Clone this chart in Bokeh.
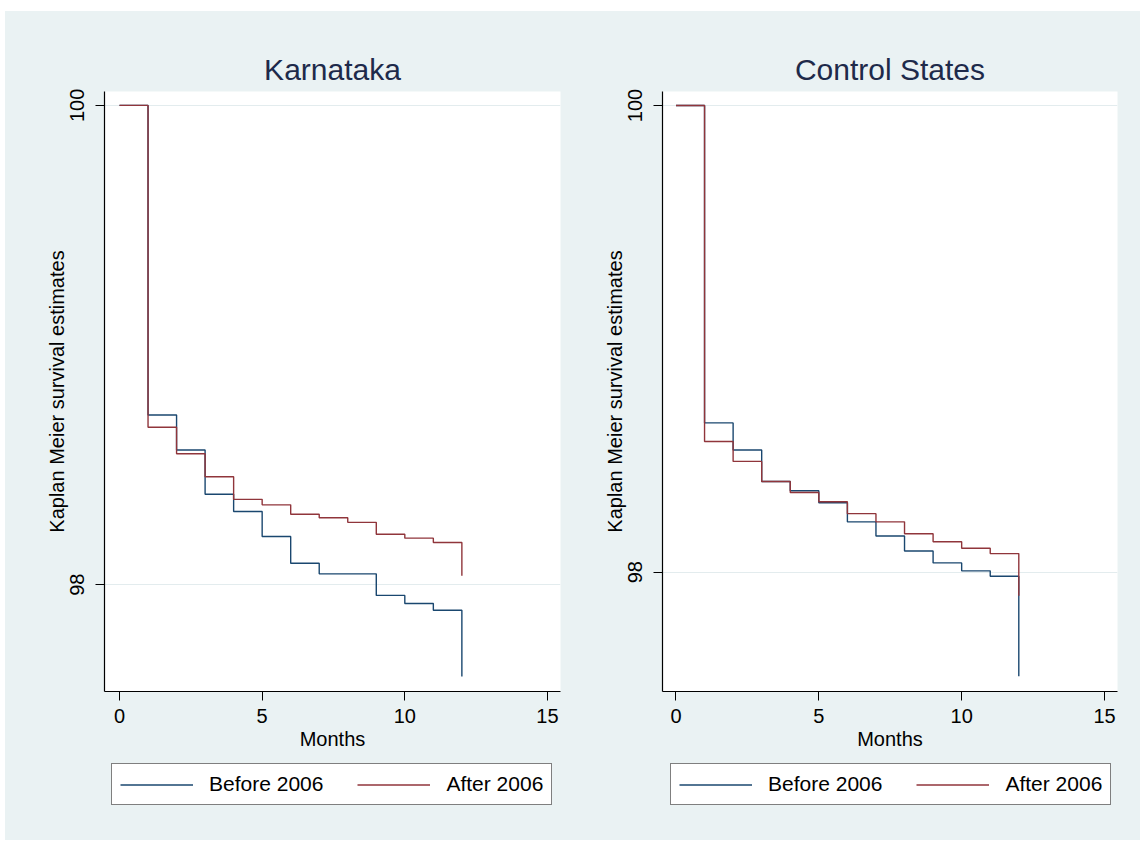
from bokeh.plotting import figure
from bokeh.layouts import row, column
from bokeh.models import FixedTicker, Range1d, Legend, LegendItem
from bokeh.embed import file_html
from bokeh.resources import INLINE

# ---- data ----
months = [0, 1, 2, 3, 4, 5, 6, 7, 8, 9, 10, 11, 12]
karnataka_before = [100.0, 98.708, 98.562, 98.377, 98.305, 98.201, 98.089,
                    98.045, 98.045, 97.955, 97.921, 97.893, 97.617]
karnataka_after = [100.0, 98.657, 98.546, 98.450, 98.356, 98.333, 98.294,
                   98.279, 98.260, 98.210, 98.194, 98.176, 98.037]
control_before = [100.0, 98.640, 98.524, 98.389, 98.349, 98.298, 98.216,
                  98.155, 98.091, 98.040, 98.006, 97.983, 97.554]
control_after = [100.0, 98.560, 98.475, 98.389, 98.342, 98.302, 98.251,
                 98.216, 98.165, 98.131, 98.103, 98.080, 97.899]
x_ticks = [0, 5, 10, 15]
y_ticks = [98, 100]
series_labels = ["Before 2006", "After 2006"]
titles = ["Karnataka", "Control States"]

BG = "#eaf2f3"
BLUE = "#1a476f"
RED = "#90353b"
FONT = "Liberation Sans"

TOP, FRAME_H, BOTTOM, LEG_H = 80, 600, 72, 77


def make_panel(title, before, after, xr, yr, bl, fw, br, leg_x):
    W = bl + fw + br
    p = figure(width=W, height=TOP + FRAME_H + BOTTOM,
               min_border_left=bl, min_border_right=br,
               min_border_top=TOP, min_border_bottom=BOTTOM,
               frame_width=fw, frame_height=FRAME_H,
               x_range=Range1d(*xr), y_range=Range1d(*yr),
               output_backend="svg", toolbar_location=None,
               background_fill_color="white", border_fill_color=BG)
    p.outline_line_color = None
    p.title.text = title
    p.title.align = "center"
    p.title.text_font = FONT
    p.title.text_font_size = "30px"
    p.title.text_font_style = "normal"
    p.title.text_color = "#1e2a4a"
    p.title.standoff = 11

    p.step(months, before, mode="after", line_color=BLUE, line_width=1.4)
    p.step(months, after, mode="after", line_color=RED, line_width=1.4)

    p.xgrid.grid_line_color = None
    p.ygrid.ticker = FixedTicker(ticks=y_ticks)
    p.ygrid.grid_line_color = "#e3ecee"
    p.ygrid.grid_line_width = 1

    for ax in (p.xaxis[0], p.yaxis[0]):
        ax.axis_line_color = "black"
        ax.axis_line_width = 1.2
        ax.major_tick_line_color = "black"
        ax.minor_tick_line_color = None
        ax.major_tick_out = 9
        ax.major_tick_in = 0
        ax.major_label_text_font = FONT
        ax.major_label_text_font_size = "20px"
        ax.major_label_text_color = "black"
        ax.axis_label_text_font = FONT
        ax.axis_label_text_font_size = "20px"
        ax.axis_label_text_font_style = "normal"
        ax.axis_label_text_color = "black"

    p.xaxis.ticker = FixedTicker(ticks=x_ticks)
    p.xaxis.axis_label = "Months"
    p.xaxis.major_label_standoff = 8
    p.xaxis.axis_label_standoff = 2

    p.yaxis.ticker = FixedTicker(ticks=y_ticks)
    p.yaxis.axis_label = "Kaplan Meier survival estimates"
    p.yaxis.major_label_orientation = "vertical"
    p.yaxis.major_label_standoff = 11
    p.yaxis.axis_label_standoff = 0

    # legend strip below the plot (its frame is aligned with the plot frame);
    # the series are drawn again here but fall outside the strip's ranges,
    # so only the legend keys show
    lf = figure(width=W, height=LEG_H, min_border=0,
                x_range=Range1d(0, 1), y_range=Range1d(0, 1),
                x_axis_type=None, y_axis_type=None,
                output_backend="svg", toolbar_location=None,
                background_fill_color=BG, border_fill_color=BG)
    lf.outline_line_color = None
    lf.xgrid.grid_line_color = None
    lf.ygrid.grid_line_color = None
    r1 = lf.step(months, before, mode="after", line_color=BLUE, line_width=1.4)
    r2 = lf.step(months, after, mode="after", line_color=RED, line_width=1.4)
    legend = Legend(items=[LegendItem(label=series_labels[0], renderers=[r1]),
                           LegendItem(label=series_labels[1], renderers=[r2])],
                    orientation="horizontal", location=(leg_x, LEG_H - 42))
    legend.label_text_font = FONT
    legend.label_text_font_size = "21px"
    legend.label_text_color = "black"
    legend.glyph_width = 73
    legend.glyph_height = 21
    legend.label_height = 21
    legend.label_standoff = 16
    legend.spacing = 34
    legend.padding = 8
    legend.margin = 0
    legend.border_line_color = "black"
    legend.border_line_width = 1.5
    legend.background_fill_color = "white"
    legend.background_fill_alpha = 1
    lf.add_layout(legend, "center")
    return column(p, lf, spacing=0)


c1 = make_panel(titles[0], karnataka_before, karnataka_after,
                (-0.526, 15.457), (97.554, 100.058), 99, 456, 15, 7)
c2 = make_panel(titles[1], control_before, control_after,
                (-0.472, 15.455), (97.489, 100.06), 87, 455, 23, 8)

layout = row(c1, c2, spacing=0, margin=(11, 0, 0, 5),
             styles={"background-color": BG})

open("out.html", "w").write(file_html(layout, INLINE))
